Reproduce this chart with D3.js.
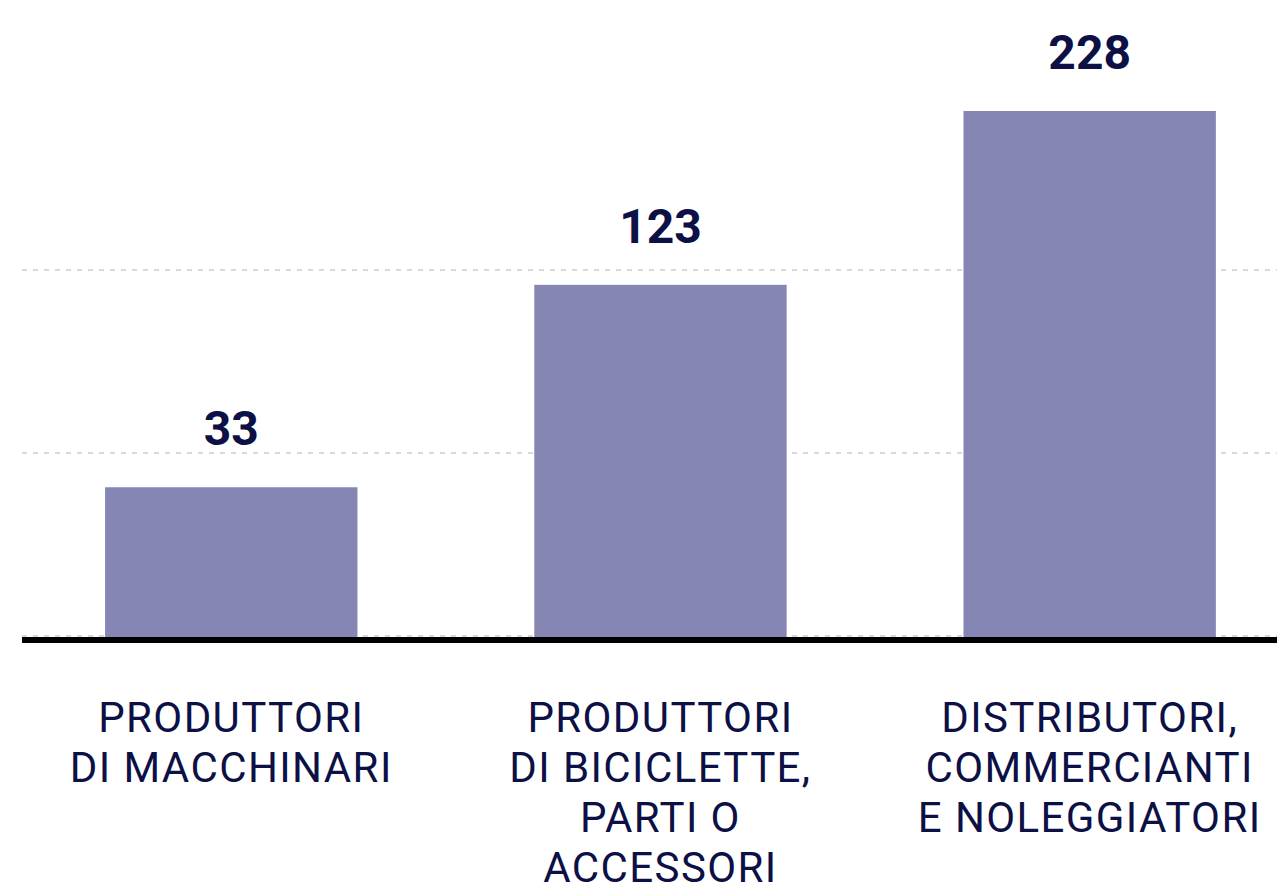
<!DOCTYPE html>
<html>
<head>
<meta charset="utf-8">
<script src="https://cdn.jsdelivr.net/npm/d3@7"></script>
<style>
  html, body { margin: 0; padding: 0; background: #fff; }
  svg { display: block; }
</style>
</head>
<body>
<script>
// Data
const categories = [
    ["PRODUTTORI", "DI MACCHINARI"],
    ["PRODUTTORI", "DI BICICLETTE,", "PARTI O", "ACCESSORI"],
    ["DISTRIBUTORI,", "COMMERCIANTI", "E NOLEGGIATORI"]
];
const values = [33, 123, 228];
const gridTicks = [0, 1, 2];

const width = 1277;
const height = 886;
const baseY = 637;

const barColor = "#8586b4";
const textColor = "#0c1045";

const svg = d3.select("body").append("svg")
    .attr("width", width)
    .attr("height", height);

// Scales
const xScale = d3.scaleBand()
    .domain(d3.range(values.length))
    .range([22, width])
    .paddingInner(0.412)
    .paddingOuter(0.168)
    .align(0.576);

// bars in the original grow less than proportionally, a pow scale follows them best
const yScale = d3.scalePow()
    .exponent(0.65)
    .domain([0, d3.max(values)])
    .range([baseY, 111]);

// dashed grid, evenly spaced
const gridScale = d3.scaleLinear()
    .domain([0, 3])
    .range([baseY - 1, baseY - 1 - 549]);

svg.append("g")
    .selectAll("line")
    .data(gridTicks)
    .join("line")
    .attr("x1", 22)
    .attr("x2", width)
    .attr("y1", d => gridScale(d))
    .attr("y2", d => gridScale(d))
    .attr("stroke", "#cbcdd0")
    .attr("stroke-width", 1.5)
    .attr("stroke-dasharray", "5,6");

// Bars
svg.append("g")
    .selectAll("rect")
    .data(values)
    .join("rect")
    .attr("x", (d, i) => xScale(i))
    .attr("y", d => yScale(d))
    .attr("width", xScale.bandwidth())
    .attr("height", d => baseY - yScale(d))
    .attr("fill", barColor);

// Baseline
svg.append("line")
    .attr("x1", 22)
    .attr("x2", width)
    .attr("y1", baseY + 3)
    .attr("y2", baseY + 3)
    .attr("stroke", "#000")
    .attr("stroke-width", 6);

// Value labels
svg.append("g")
    .selectAll("text")
    .data(values)
    .join("text")
    .attr("x", (d, i) => xScale(i) + xScale.bandwidth() / 2)
    .attr("y", d => yScale(d) - 42)
    .attr("text-anchor", "middle")
    .attr("font-family", "Roboto, sans-serif")
    .attr("font-weight", "bold")
    .attr("font-size", "48px")
    .attr("fill", textColor)
    .text(d => d);

// Category labels
const catLabels = svg.append("g")
    .selectAll("text")
    .data(categories)
    .join("text")
    .attr("x", (d, i) => xScale(i) + xScale.bandwidth() / 2)
    .attr("y", 732)
    .attr("text-anchor", "middle")
    .attr("font-family", "Roboto, sans-serif")
    .attr("font-size", "42px")
    .attr("letter-spacing", "1.4px")
    .attr("fill", textColor);

catLabels.selectAll("tspan")
    .data(d => d)
    .join("tspan")
    .attr("x", function() { return this.parentNode.getAttribute("x"); })
    .attr("dy", (d, i) => i === 0 ? 0 : 50)
    .text(d => d);
</script>
</body>
</html>
